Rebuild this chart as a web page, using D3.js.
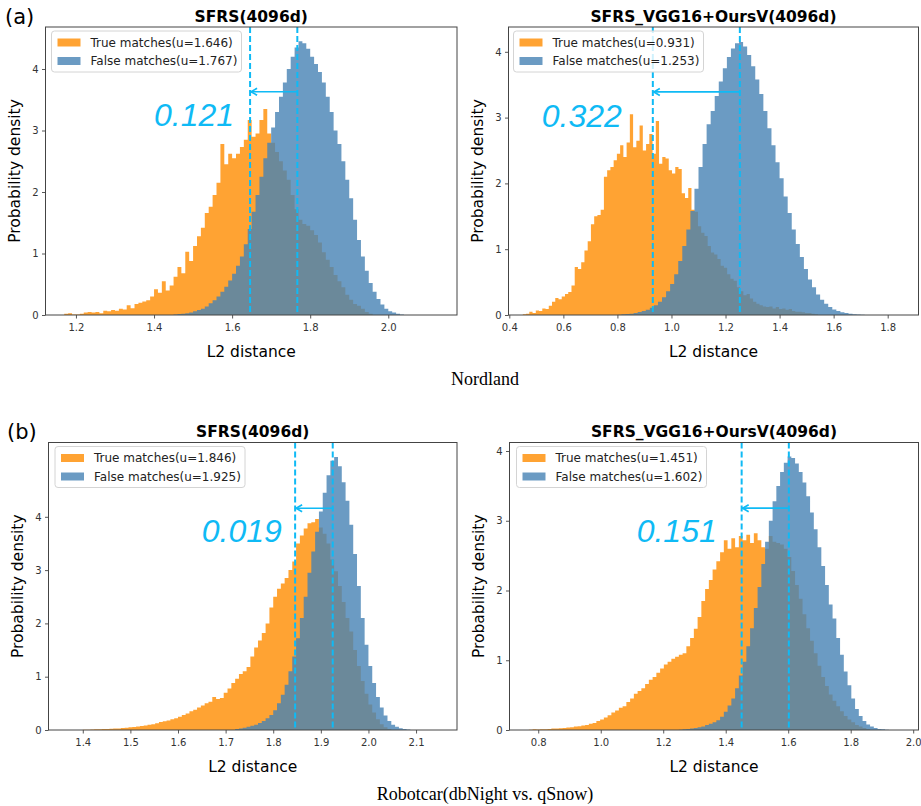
<!DOCTYPE html>
<html>
<head>
<meta charset="utf-8">
<title>L2 distance histograms</title>
<style>
  body {margin:0; background:#fff;}
  svg text {font-family:'DejaVu Sans', sans-serif; fill:#000;}
  svg .tick text {font-size:10px; fill:#333;}
  svg .tick line {stroke:#444; stroke-width:0.9;}
  svg .domain {display:none;}
  svg .frame {fill:none; stroke:#444; stroke-width:1;}
  svg .title {font-weight:bold; font-size:15.5px; text-anchor:middle;}
  svg .axlabel {font-size:15.5px; text-anchor:middle;}
  svg .legend text {font-size:12px; fill:#222;}
  svg .gap {font-family:'Liberation Sans', Arial, sans-serif; font-style:italic; font-size:32px; fill:#0fbaf5;}
  svg .caption {font-family:'Liberation Serif', 'Times New Roman', serif; font-size:18px; text-anchor:middle;}
  svg .panel {font-size:21px;}
</style>
</head>
<body>
<script src="https://cdn.jsdelivr.net/npm/d3@7"></script>
<script>
  // ---- data ----
  var titles = ['SFRS(4096d)', 'SFRS_VGG16+OursV(4096d)', 'SFRS(4096d)', 'SFRS_VGG16+OursV(4096d)'];
  var trueMeans  = [1.646, 0.931, 1.846, 1.451];
  var falseMeans = [1.767, 1.253, 1.925, 1.602];
  var gapLabels  = ['0.121', '0.322', '0.019', '0.151'];
  var gapTextX   = [1.40, 0.52, 1.65, 1.115];
  var gapTextY   = [3.07, 2.86, 3.53, 2.70];
  var arrowLevel = [3.63, 3.39, 4.16, 3.18];

  var xLo = [1.122, 0.397, 1.328, 0.708];
  var xHi = [2.176, 1.914, 2.186, 2.017];
  var yHi = [4.683, 4.377, 5.394, 4.122];

  var xTicks = [
    [1.2, 1.4, 1.6, 1.8, 2.0],
    [0.4, 0.6, 0.8, 1.0, 1.2, 1.4, 1.6, 1.8],
    [1.4, 1.5, 1.6, 1.7, 1.8, 1.9, 2.0, 2.1],
    [0.8, 1.0, 1.2, 1.4, 1.6, 1.8, 2.0]
  ];
  var yTicks = [0, 1, 2, 3, 4];

  var binStartTrue  = [1.17, 0.45, 1.40, 0.77];
  var binWidthTrue  = [0.01, 0.012, 0.008, 0.012];
  var binStartFalse = [1.45, 0.80, 1.72, 1.25];
  var binWidthFalse = [0.01, 0.015, 0.008, 0.012];

  // Nordland, SFRS
  var densTrueA1 = [0.02,0.03,0.01,0.01,0.02,0.04,0.05,0.04,0.05,0.03,0.07,0.06,0.08,0.07,0.10,0.09,0.16,0.11,0.18,0.20,
    0.22,0.24,0.30,0.42,0.36,0.55,0.40,0.48,0.62,0.78,0.68,1.03,0.88,1.12,1.28,1.42,1.66,1.76,1.95,2.15,
    2.78,2.45,2.62,2.55,2.62,2.73,2.85,3.17,2.90,2.95,3.17,3.35,2.95,2.80,2.65,2.50,2.35,2.20,1.95,1.72,
    1.55,1.48,1.45,1.38,1.30,1.18,1.02,0.90,0.78,0.65,0.55,0.45,0.33,0.25,0.18,0.15,0.10,0.05,0.02];
  var densFalseA1 = [0.01,0.015,0.02,0.03,0.04,0.06,0.08,0.10,0.14,0.19,0.24,0.30,0.38,0.46,0.56,0.67,0.80,0.95,1.15,1.40,
    1.68,1.95,2.25,2.55,2.80,3.05,3.30,3.55,3.78,4.00,4.20,4.35,4.45,4.42,4.33,4.20,4.08,3.95,3.78,3.55,
    3.30,3.00,2.78,2.50,2.20,1.90,1.55,1.22,0.95,0.72,0.52,0.38,0.26,0.17,0.10,0.06,0.04,0.02,0.01];

  // Nordland, SFRS_VGG16+OursV
  var densTrueA2 = [0.01,0.02,0.05,0.03,0.07,0.06,0.10,0.09,0.14,0.20,0.26,0.24,0.28,0.32,0.35,0.45,0.73,0.70,0.80,0.98,
    1.12,1.38,1.50,1.52,1.60,2.10,2.20,2.25,2.35,2.45,2.58,2.40,2.62,3.05,2.55,2.65,2.88,2.50,2.60,2.75,
    2.45,2.95,2.30,2.40,2.38,2.20,2.15,2.25,2.22,1.85,1.78,1.93,1.60,1.57,1.35,1.25,1.20,1.05,0.95,0.92,
    0.85,0.75,0.72,0.62,0.55,0.52,0.42,0.36,0.30,0.32,0.25,0.20,0.17,0.15,0.13,0.12,0.13,0.10,0.12,0.09,
    0.10,0.08,0.09,0.06,0.05,0.05,0.04,0.03,0.03,0.02,0.01];
  var densFalseA2 = [0.005,0.01,0.015,0.02,0.03,0.045,0.06,0.08,0.11,0.15,0.20,0.27,0.36,0.47,0.62,0.82,1.05,1.30,1.58,1.92,
    2.25,2.60,2.90,3.10,3.33,3.55,3.75,3.92,4.05,4.13,4.15,4.08,3.95,3.78,3.58,3.36,3.10,2.84,2.58,2.32,
    2.08,1.80,1.55,1.30,1.08,0.88,0.70,0.54,0.42,0.31,0.23,0.17,0.12,0.085,0.06,0.04,0.03,0.02,0.012,0.008,0.005];

  // Robotcar, SFRS
  var densTrueB1 = [0.005,0.007,0.01,0.012,0.015,0.017,0.02,0.023,0.027,0.03,0.036,0.042,0.05,0.056,0.065,0.075,0.085,0.10,0.11,0.125,
    0.15,0.165,0.18,0.20,0.22,0.25,0.28,0.31,0.35,0.38,0.42,0.46,0.50,0.53,0.62,0.58,0.60,0.70,0.78,0.88,
    0.96,1.05,1.10,1.18,1.38,1.55,1.68,1.82,2.00,2.30,2.50,2.65,2.75,2.85,3.00,3.16,3.50,3.65,3.78,3.88,
    3.90,3.96,3.80,3.68,3.50,3.20,2.98,2.70,2.40,2.10,1.85,1.50,1.20,0.92,0.68,0.48,0.33,0.20,0.11,0.05,0.02];
  var densFalseB1 = [0.02,0.03,0.04,0.06,0.08,0.10,0.13,0.17,0.22,0.28,0.37,0.50,0.66,0.85,1.10,1.38,1.72,2.10,2.50,2.95,
    3.35,3.72,4.10,4.45,4.78,5.05,5.12,4.95,4.65,4.30,3.85,3.30,2.70,2.10,1.60,1.20,0.88,0.62,0.42,0.27,
    0.17,0.10,0.06,0.035,0.02,0.01];

  // Robotcar, SFRS_VGG16+OursV
  var densTrueB2 = [0.005,0.01,0.008,0.012,0.01,0.015,0.02,0.02,0.025,0.03,0.035,0.04,0.05,0.055,0.065,0.07,0.09,0.10,0.13,0.15,
    0.18,0.21,0.25,0.28,0.32,0.34,0.40,0.45,0.52,0.56,0.60,0.66,0.72,0.76,0.82,0.88,0.94,0.98,1.02,1.05,
    1.08,1.10,1.20,1.32,1.45,1.62,1.85,2.02,2.15,2.30,2.42,2.55,2.72,2.60,2.75,2.62,2.78,2.72,2.80,2.68,
    2.82,2.72,2.62,2.60,2.78,2.70,2.68,2.66,2.60,2.48,2.28,2.08,1.88,1.66,1.46,1.28,1.10,0.92,0.76,0.63,
    0.51,0.42,0.34,0.27,0.20,0.15,0.11,0.07,0.05,0.03,0.015];
  var densFalseB2 = [0.005,0.01,0.015,0.02,0.03,0.04,0.05,0.07,0.09,0.11,0.14,0.19,0.26,0.35,0.45,0.60,0.78,0.98,1.20,1.46,
    1.75,2.05,2.38,2.70,3.00,3.28,3.50,3.70,3.83,3.92,3.90,3.82,3.70,3.55,3.35,3.12,2.88,2.62,2.35,2.08,
    1.80,1.60,1.32,1.08,0.84,0.64,0.45,0.30,0.20,0.13,0.08,0.05,0.03,0.015,0.01,0.005];

  var densTrue  = [densTrueA1, densTrueA2, densTrueB1, densTrueB2];
  var densFalse = [densFalseA1, densFalseA2, densFalseB1, densFalseB2];

  // ---- layout ----
  var width = 921, height = 806;
  var frames = [
    {l: 45.5,  r: 457,   t: 27,    b: 315, lg: 6},
    {l: 508.5, r: 918.5, t: 27,    b: 315, lg: 5},
    {l: 48.5,  r: 457,   t: 442.5, b: 730, lg: 6.5},
    {l: 509.5, r: 918.5, t: 442.5, b: 730, lg: 7}
  ];
  var orange = '#ff8c00', blue = '#4682b4', sky = '#0fbaf5';

  var svg = d3.select('body')
    .append('svg')
    .attr('width', width)
    .attr('height', height);

  function bins(start, w, vals){
    var pts = vals.map(function(v, i){ return {x: start + i * w, v: v}; });
    pts.push({x: start + vals.length * w, v: vals[vals.length - 1]});
    return pts;
  }

  frames.forEach(function(f, i){
    var x = d3.scaleLinear().domain([xLo[i], xHi[i]]).range([f.l, f.r]);
    var y = d3.scaleLinear().domain([0, yHi[i]]).range([f.b, f.t]);
    var g = svg.append('g');

    g.append('clipPath').attr('id', 'clip' + i)
      .append('rect')
      .attr('x', f.l).attr('y', f.t)
      .attr('width', f.r - f.l).attr('height', f.b - f.t);

    var plot = g.append('g').attr('clip-path', 'url(#clip' + i + ')');

    var area = d3.area()
      .curve(d3.curveStepAfter)
      .x(function(d){ return x(d.x); })
      .y0(y(0))
      .y1(function(d){ return y(d.v); });

    plot.append('path')
      .attr('d', area(bins(binStartTrue[i], binWidthTrue[i], densTrue[i])))
      .attr('fill', orange).attr('fill-opacity', 0.8);
    plot.append('path')
      .attr('d', area(bins(binStartFalse[i], binWidthFalse[i], densFalse[i])))
      .attr('fill', blue).attr('fill-opacity', 0.8);

    // mean lines
    [trueMeans[i], falseMeans[i]].forEach(function(m){
      plot.append('line')
        .attr('x1', x(m)).attr('x2', x(m))
        .attr('y1', f.t).attr('y2', f.b)
        .attr('stroke', sky).attr('stroke-width', 2)
        .attr('stroke-dasharray', '6,3');
    });

    // arrow between the means
    var ay = y(arrowLevel[i]), xt = x(trueMeans[i]), xf = x(falseMeans[i]);
    plot.append('line')
      .attr('x1', xf).attr('x2', xt + 0.5)
      .attr('y1', ay).attr('y2', ay)
      .attr('stroke', sky).attr('stroke-width', 1.7);
    plot.append('path')
      .attr('d', 'M' + (xt + 7) + ',' + (ay - 3.5) + 'L' + (xt + 1) + ',' + ay + 'L' + (xt + 7) + ',' + (ay + 3.5))
      .attr('fill', 'none').attr('stroke', sky).attr('stroke-width', 1.7);

    g.append('text')
      .attr('class', 'gap')
      .attr('x', x(gapTextX[i])).attr('y', y(gapTextY[i]))
      .text(gapLabels[i]);

    g.append('rect').attr('class', 'frame')
      .attr('x', f.l).attr('y', f.t)
      .attr('width', f.r - f.l).attr('height', f.b - f.t);

    g.append('g')
      .attr('transform', 'translate(0,' + f.b + ')')
      .call(d3.axisBottom(x).tickValues(xTicks[i]).tickFormat(d3.format('.1f')).tickSize(3.5).tickPadding(5));
    g.append('g')
      .attr('transform', 'translate(' + f.l + ',0)')
      .call(d3.axisLeft(y).tickValues(yTicks).tickFormat(d3.format('d')).tickSize(3.5).tickPadding(3.5));

    // legend
    var lg = g.append('g').attr('class', 'legend')
      .attr('transform', 'translate(' + (f.l + f.lg) + ',' + (f.t + 4) + ')');
    lg.append('rect')
      .attr('width', 190).attr('height', 41).attr('rx', 3)
      .attr('fill', '#fff').attr('fill-opacity', 0.8)
      .attr('stroke', '#d4d4d4');
    [['True matches(u=' + trueMeans[i].toFixed(3) + ')', orange],
     ['False matches(u=' + falseMeans[i].toFixed(3) + ')', blue]].forEach(function(e, k){
      lg.append('rect')
        .attr('x', 6).attr('y', 7.5 + k * 18.5)
        .attr('width', 23).attr('height', 8)
        .attr('fill', e[1]).attr('fill-opacity', 0.8);
      lg.append('text')
        .attr('x', 39).attr('y', 11.5 + k * 18.5)
        .attr('dy', '0.35em')
        .text(e[0]);
    });

    g.append('text').attr('class', 'title')
      .attr('x', (f.l + f.r) / 2).attr('y', f.t - 5.5)
      .text(titles[i]);
    g.append('text').attr('class', 'axlabel')
      .attr('x', (f.l + f.r) / 2).attr('y', f.b + 42)
      .text('L2 distance');
    g.append('text').attr('class', 'axlabel')
      .attr('transform', 'translate(' + (f.l - 25.5) + ',' + ((f.t + f.b) / 2) + ') rotate(-90)')
      .text('Probability density');
  });

  svg.append('text').attr('class', 'panel').attr('x', 5).attr('y', 24).text('(a)');
  svg.append('text').attr('class', 'panel').attr('x', 7).attr('y', 439).text('(b)');
  svg.append('text').attr('class', 'caption').attr('x', 485).attr('y', 385).text('Nordland');
  svg.append('text').attr('class', 'caption').attr('x', 485).attr('y', 800).text('Robotcar(dbNight vs. qSnow)');
</script>
</body>
</html>
